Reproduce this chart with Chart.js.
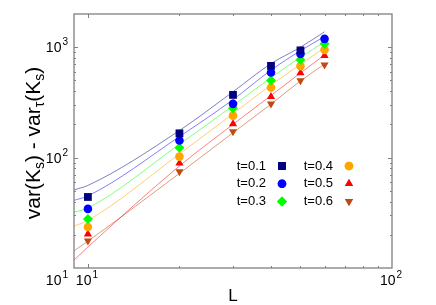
<!DOCTYPE html>
<html>
<head>
<meta charset="utf-8">
<script src="https://cdn.jsdelivr.net/npm/chart.js@4.4.1/dist/chart.umd.min.js"></script>
<style>
html, body { margin: 0; padding: 0; background: #fff; }
#wrap { width: 436px; height: 305px; }
</style>
</head>
<body>
<div id="wrap"><canvas id="chart"></canvas></div>
<script>
// system sizes and measured values per t
const sizes = [10, 20, 30, 40, 50, 60];
const tLabels = ['t=0.1', 't=0.2', 't=0.3', 't=0.4', 't=0.5', 't=0.6'];
const var01 = [44, 166, 370, 678, 937, null];
const var02 = [34.3, 143, 307, 590, 871, 1191];
const var03 = [27.8, 123, 280, 499, 769, 1074];
const var04 = [23.5, 102, 240, 431, 674, 947];
const var05 = [20.3, 89, 202, 357, 586, 841];
const var06 = [17.6, 74.6, 172, 307, 499, 692];

// fitted curves
const fitSizes = [9, 10, 20, 30, 40, 50, 60];
const fit01 = [51, 56, 176, 395, 710, 1000, 1380];
const fit02 = [41, 45, 155, 335, 620, 930, 1250];
const fit03 = [32, 35, 132, 295, 530, 810, 1120];
const fit04 = [24, 27, 108, 250, 455, 700, 990];
const fit05 = [11.8, 15.5, 84, 200, 365, 585, 850];
const fit06 = [14.3, 17.5, 72, 168, 305, 495, 705];

// axis tick labels: base and exponent
const xTickValues = [10, 100];
const xTickExps = ['1', '2'];
const yTickValues = [10, 100, 1000];
const yTickExps = ['1', '2', '3'];

const colors = ['#000080', '#0000ff', '#00ff00', '#ffa500', '#ff0000', '#bf4a12'];
const fitColors = ['rgba(0,0,128,0.5)', 'rgba(0,0,255,0.5)', 'rgba(0,255,0,0.5)',
                   'rgba(255,165,0,0.55)', 'rgba(255,0,0,0.5)', 'rgba(191,74,18,0.55)'];
const styles = ['rect', 'circle', 'rectRot', 'circle', 'triangle', 'triangle'];
const radii = [5.5, 4.3, 5, 4.3, 4.7, 4.7];
const rotations = [0, 0, 0, 0, 0, 180];

const allVars = [var01, var02, var03, var04, var05, var06];
const allFits = [fit01, fit02, fit03, fit04, fit05, fit06];

const FONT = '"Liberation Sans", Arial, sans-serif';

const pointSets = allVars.map((vals, i) => ({
    label: tLabels[i],
    data: sizes.map((L, j) => ({ x: L, y: vals[j] })).filter(p => p.y !== null),
    pointStyle: styles[i],
    pointRadius: radii[i],
    pointRotation: rotations[i],
    backgroundColor: colors[i],
    borderColor: colors[i],
    borderWidth: 0,
    showLine: false
}));

const fitSets = allFits.map((vals, i) => ({
    label: 'fit ' + tLabels[i],
    data: fitSizes.map((L, j) => ({ x: L, y: vals[j] })),
    showLine: true,
    pointRadius: 0,
    borderColor: fitColors[i],
    borderWidth: 1,
    cubicInterpolationMode: 'monotone'
}));

function supLabel(ctx, base, exp, x, y, align) {
    ctx.font = '14px ' + FONT;
    const wb = ctx.measureText(base).width;
    ctx.font = '10px ' + FONT;
    const we = ctx.measureText(exp).width + 1;
    let x0 = align === 'right' ? x - wb - we : x - (wb + we) / 2;
    ctx.textBaseline = 'alphabetic';
    ctx.textAlign = 'left';
    ctx.font = '14px ' + FONT;
    ctx.fillText(base, x0, y + 5);
    ctx.font = '10px ' + FONT;
    ctx.fillText(exp, x0 + wb + 1, y - 2);
}

const decorations = {
    id: 'decorations',
    afterDatasetsDraw(chart) {
        const { ctx, chartArea: a, scales: { x, y } } = chart;
        ctx.save();
        ctx.strokeStyle = '#808080';
        ctx.lineWidth = 1.3;
        ctx.strokeRect(a.left, a.top, a.right - a.left, a.bottom - a.top);
        ctx.lineWidth = 1;
        ctx.beginPath();
        for (let d = 1; d <= 1000; d *= 10) {
            for (let m = 1; m < 10; m++) {
                const v = d * m;
                const len = m === 1 ? 4 : 2;
                if (v > x.min && v < x.max) {
                    const px = Math.round(x.getPixelForValue(v)) + 0.5;
                    ctx.moveTo(px, a.bottom); ctx.lineTo(px, a.bottom - len);
                    ctx.moveTo(px, a.top); ctx.lineTo(px, a.top + len);
                }
                if (v > y.min && v < y.max) {
                    const py = Math.round(y.getPixelForValue(v)) + 0.5;
                    ctx.moveTo(a.left, py); ctx.lineTo(a.left + len, py);
                    ctx.moveTo(a.right, py); ctx.lineTo(a.right - len, py);
                }
            }
        }
        ctx.stroke();

        ctx.fillStyle = '#000';
        // tick labels
        xTickValues.forEach((v, i) => {
            supLabel(ctx, '10', xTickExps[i], x.getPixelForValue(v) - 1, a.bottom + 12, 'center');
        });
        yTickValues.forEach((v, i) => {
            let py = y.getPixelForValue(v);
            if (py > a.bottom - 2) py = a.bottom + 12;
            supLabel(ctx, '10', yTickExps[i], a.left - 6, py, 'right');
        });

        // axis titles
        ctx.font = '17px ' + FONT;
        ctx.textAlign = 'center';
        ctx.textBaseline = 'alphabetic';
        ctx.fillText('L', (a.left + a.right) / 2, 301);

        const parts = [['var(K', 0], ['s', 1], [') - var', 0], ['\u03c4', 1], ['(K', 0], ['s', 1], [')', 0]];
        const big = '21px ' + FONT, small = '14px ' + FONT;
        let total = 0;
        parts.forEach(p => { ctx.font = p[1] ? small : big; total += ctx.measureText(p[0]).width; });
        ctx.translate(40, (a.top + a.bottom) / 2 + 2);
        ctx.rotate(-Math.PI / 2);
        ctx.textAlign = 'left';
        let cx = -total / 2;
        parts.forEach(p => {
            ctx.font = p[1] ? small : big;
            ctx.fillText(p[0], cx, p[1] ? 4 : 0);
            cx += ctx.measureText(p[0]).width;
        });
        ctx.restore();

        // legend in two columns
        ctx.save();
        ctx.font = '13px ' + FONT;
        ctx.textAlign = 'right';
        ctx.textBaseline = 'middle';
        ctx.fillStyle = '#000';
        tLabels.forEach((lab, i) => {
            const col = Math.floor(i / 3), row = i % 3;
            const tx = a.left + 192 + col * 67;
            const ty = a.top + 152 + row * 17.7;
            ctx.fillText(lab, tx, ty);
            ctx.fillStyle = colors[i];
            Chart.helpers.drawPoint(ctx, {
                pointStyle: styles[i], radius: radii[i], rotation: rotations[i], borderWidth: 0
            }, tx + 16, ty);
            ctx.fill();
            ctx.fillStyle = '#000';
        });
        ctx.restore();
    }
};

new Chart(document.getElementById('chart'), {
    type: 'scatter',
    data: { datasets: pointSets.concat(fitSets) },
    options: {
        responsive: true,
        maintainAspectRatio: false,
        devicePixelRatio: 1,
        animation: false,
        layout: { padding: { top: 14, right: 44, left: 0, bottom: 0 } },
        plugins: { legend: { display: false }, tooltip: { enabled: false } },
        scales: {
            x: {
                type: 'logarithmic', min: 9, max: 100,
                grid: { display: false }, border: { display: false },
                ticks: { display: false },
                afterFit: s => { s.height = 37; }
            },
            y: {
                type: 'logarithmic', min: 10, max: 2000,
                grid: { display: false }, border: { display: false },
                ticks: { display: false },
                afterFit: s => { s.width = 74; }
            }
        }
    },
    plugins: [decorations]
});
</script>
</body>
</html>
